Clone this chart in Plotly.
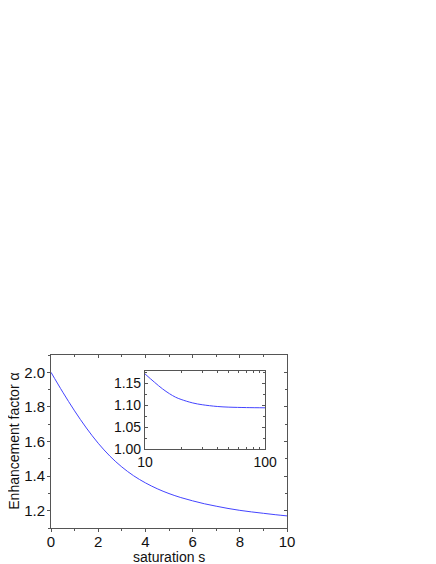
import plotly.graph_objects as go

# Main curve: enhancement factor vs saturation
s_main = [0, 0.5, 1, 1.5, 2, 2.5, 3, 3.5, 4, 4.5, 5, 5.5, 6, 6.5, 7, 7.5, 8, 8.5, 9, 9.5, 10]
alpha_main = [2.000, 1.885, 1.777, 1.678, 1.590, 1.515, 1.453, 1.402, 1.361, 1.327, 1.299,
              1.276, 1.257, 1.240, 1.226, 1.213, 1.202, 1.193, 1.185, 1.177, 1.170]

# Inset curve (log x)
s_inset = [10, 12, 14, 16, 18, 20, 25, 30, 40, 50, 70, 100]
alpha_inset = [1.171, 1.152, 1.137, 1.126, 1.118, 1.113, 1.105, 1.101, 1.097, 1.0955, 1.0945, 1.094]

main_yticks = [1.2, 1.4, 1.6, 1.8, 2.0]
main_xticks = [0, 2, 4, 6, 8, 10]
inset_yticks = [1.00, 1.05, 1.10, 1.15]
inset_xticks = [10, 100]
inset_xminor = [20, 30, 40, 50, 60, 70, 80, 90]

x_title = "saturation s"
y_title = "Enhancement factor α"

LINE = "#4444ff"
AX = "#555555"
FONT = "Liberation Sans, Arial, sans-serif"

fig = go.Figure()
fig.add_trace(go.Scatter(x=s_main, y=alpha_main, mode="lines", line=dict(color=LINE, width=1, shape="spline"),
                         xaxis="x", yaxis="y", showlegend=False))
# invisible trace to draw the mirrored top/right axes
fig.add_trace(go.Scatter(x=s_main, y=alpha_main, mode="lines", opacity=0, hoverinfo="skip",
                         xaxis="x3", yaxis="y3", showlegend=False))
fig.add_trace(go.Scatter(x=s_inset, y=alpha_inset, mode="lines", line=dict(color=LINE, width=1, shape="spline"),
                         xaxis="x2", yaxis="y2", showlegend=False))

common = dict(showgrid=False, zeroline=False, showline=True, linecolor=AX, linewidth=1,
              tickcolor=AX, tickfont=dict(size=15, color="#111"), automargin=False)

fig.update_layout(
    width=436, height=564,
    margin=dict(l=43, r=157, t=347, b=44),
    paper_bgcolor="white", plot_bgcolor="white",
    font=dict(family=FONT, color="#111"),
    xaxis=dict(range=[0, 10], tickvals=main_xticks, ticks="outside", ticklen=3, ticklabelstandoff=-3,
               minor=dict(dtick=1, ticks="outside", ticklen=2, tickcolor=AX), **common),
    yaxis=dict(range=[1.1, 2.1], tickvals=main_yticks, tickformat=".1f", ticks="outside", ticklen=3,
               ticklabelstandoff=-1,
               minor=dict(dtick=0.1, ticks="outside", ticklen=2, tickcolor=AX), **common),
    xaxis3=dict(range=[0, 10], overlaying="x", side="top", anchor="y3", tickvals=main_xticks,
                ticks="inside", ticklen=3, showticklabels=False,
                minor=dict(dtick=1, ticks="inside", ticklen=2, tickcolor=AX), **common),
    yaxis3=dict(range=[1.1, 2.1], overlaying="y", side="right", anchor="x3", tickvals=main_yticks,
                ticks="inside", ticklen=3, showticklabels=False,
                minor=dict(dtick=0.1, ticks="inside", ticklen=2, tickcolor=AX), **common),
    xaxis2=dict(type="log", range=[1, 2], domain=[0.398, 0.907], anchor="y2",
                tickvals=inset_xticks, ticktext=["10", "100"], ticks="inside", ticklen=3, mirror="ticks",
                minor=dict(tickvals=inset_xminor, ticks="inside", ticklen=2, tickcolor=AX),
                showgrid=False, zeroline=False, showline=True, linecolor=AX, linewidth=1, automargin=False,
                tickcolor=AX, tickfont=dict(size=14, color="#111")),
    yaxis2=dict(range=[1.0, 1.178], domain=[0.455, 0.909], anchor="x2",
                tickvals=inset_yticks, tickformat=".2f", ticks="inside", ticklen=3, mirror="ticks",
                minor=dict(dtick=0.025, ticks="inside", ticklen=2, tickcolor=AX),
                showgrid=False, zeroline=False, showline=True, linecolor=AX, linewidth=1, automargin=False,
                tickcolor=AX, tickfont=dict(size=14, color="#111")),
    annotations=[
        dict(text=x_title, xref="paper", yref="paper", x=0.5, y=-0.165, xanchor="center", yanchor="middle",
             showarrow=False, font=dict(size=14, color="#111")),
        dict(text=y_title, xref="paper", yref="paper", x=-0.16, y=0.5, xanchor="center", yanchor="middle",
             textangle=-90, showarrow=False, font=dict(size=14, color="#111")),
    ],
)

fig.write_html("out.html")
